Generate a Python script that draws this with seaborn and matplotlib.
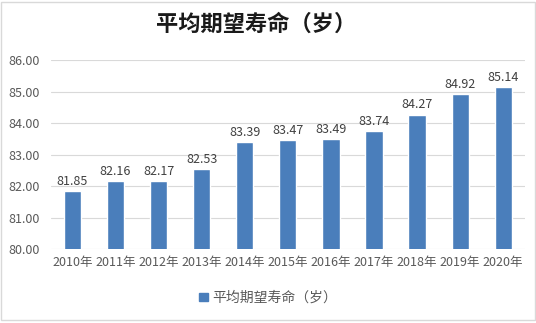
import matplotlib
matplotlib.use("Agg")
import matplotlib.pyplot as plt
import seaborn as sns
import pandas as pd
from matplotlib.patches import Patch

years = ["2010年", "2011年", "2012年", "2013年", "2014年", "2015年",
         "2016年", "2017年", "2018年", "2019年", "2020年"]
life_expectancy = [81.85, 82.16, 82.17, 82.53, 83.39, 83.47,
                   83.49, 83.74, 84.27, 84.92, 85.14]
series_name = "平均期望寿命（岁）"
y_ticks = [80, 81, 82, 83, 84, 85, 86]

sns.set_theme(style="white")
plt.rcParams["font.family"] = ["Noto Sans CJK SC", "DejaVu Sans"]

df = pd.DataFrame({"year": years, "value": life_expectancy})

fig = plt.figure(figsize=(5.36, 3.23), dpi=100)
ax = fig.add_axes([0.095, 0.229, 0.884, 0.585])

bar_color = "#4a7ebb"
sns.barplot(data=df, x="year", y="value", color=bar_color, width=0.4,
            saturation=1, ax=ax)

ax.set_ylim(80, 86)
ax.set_yticks(y_ticks)
ax.set_yticklabels([f"{t:.2f}" for t in y_ticks])
ax.set_xlabel("")
ax.set_ylabel("")
ax.grid(axis="y", color="#d9d9d9", linewidth=0.8)
ax.set_axisbelow(True)
for s in ax.spines.values():
    s.set_visible(False)
ax.tick_params(axis="both", length=0, labelsize=9, colors="#595959")
ax.tick_params(axis="x", pad=5)
ax.tick_params(axis="y", pad=8)

for i, v in enumerate(life_expectancy):
    ax.text(i, v + 0.1, f"{v:.2f}", ha="center", va="bottom",
            fontsize=9, color="#404040")

fig.text(0.478, 0.925, series_name, ha="center", va="center",
         fontsize=16, fontweight="bold", color="#1a1a1a")

fig.legend(handles=[Patch(color=bar_color, label=series_name)],
           loc="center", bbox_to_anchor=(0.5, 0.078), frameon=False,
           fontsize=10, handlelength=0.6, handleheight=0.6,
           handletextpad=0.3, labelcolor="#595959")

# light frame around the figure
fig.patches.append(plt.Rectangle((0.002, 0.01), 0.996, 0.985,
                                 transform=fig.transFigure, fill=False,
                                 edgecolor="#d9d9d9", linewidth=1))

fig.savefig("out.png", dpi=100)
